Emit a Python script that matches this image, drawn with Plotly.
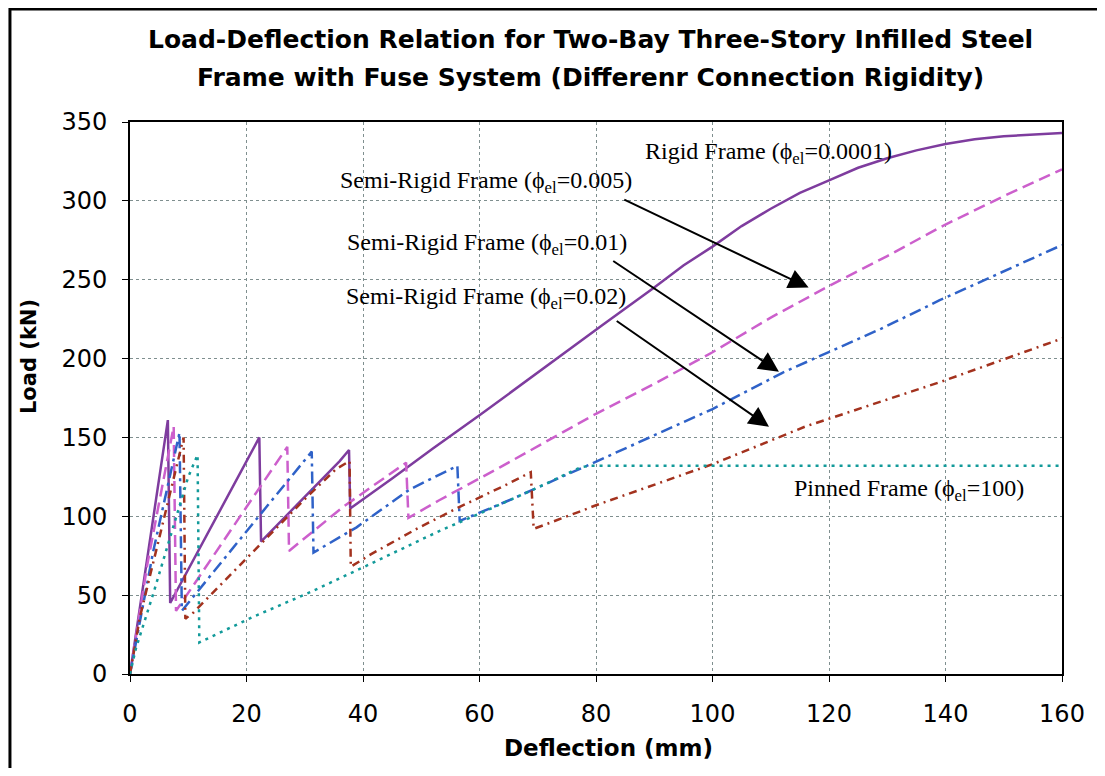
import plotly.graph_objects as go

# deflection (mm) / load (kN)
rigid_x = [0, 6.5, 6.9, 22.2, 22.5, 30, 36, 37.6, 37.8, 45, 52, 60, 67, 75, 81, 90, 95, 100, 105, 110, 115, 120, 125, 130, 135, 140, 145, 150, 155, 160]
rigid_y = [0, 161, 45, 150, 84, 112, 135, 142, 105, 124, 143, 164, 183, 205, 221, 245, 259, 271, 284, 295, 305, 313, 321, 327, 332, 336, 339, 341, 342, 343]

semi005_x = [0, 3, 7.5, 7.9, 27, 27.3, 36.6, 47.4, 47.8, 53, 63.5, 77, 80, 90, 100, 110, 120, 130, 140, 150, 160]
semi005_y = [0, 70, 157, 40, 144, 78, 106, 134, 99, 110, 131, 159, 165, 184, 204, 226, 246, 265, 285, 303, 320]

semi01_x = [0, 4, 8.5, 8.9, 21, 31.2, 31.5, 38.9, 48, 56.2, 56.6, 65, 79, 100, 112, 129, 139, 160]
semi01_y = [0, 78, 153, 40, 95, 141, 77, 93, 117, 132, 97, 110, 133, 168, 191, 219, 237, 272]

semi02_x = [0, 1.7, 5.2, 9.2, 9.5, 10.9, 30.3, 35.4, 37.7, 37.9, 41.4, 49.2, 56.6, 64.6, 68.8, 69.3, 77.2, 80, 100, 116, 139, 151, 161]
semi02_y = [0, 36, 89, 150, 35, 39, 112, 130, 135, 68, 76, 92, 106, 120, 128, 92, 103, 107, 133, 157, 185, 201, 214]

pinned_x = [0, 1, 4, 7, 10, 11.6, 11.9, 21, 31, 40.8, 53.3, 59.6, 69.3, 77.3, 79, 160]
pinned_y = [0, 16, 51, 88, 125, 139, 20, 36, 52, 69, 91, 101, 117, 131, 132, 132]

fig = go.Figure()
fig.add_trace(go.Scatter(x=rigid_x, y=rigid_y, mode='lines', name='Rigid',
                         line=dict(color='#7E3C9E', width=2.5)))
fig.add_trace(go.Scatter(x=semi005_x, y=semi005_y, mode='lines', name='0.005',
                         line=dict(color='#CC5FCC', width=2.5, dash='12px,6px')))
fig.add_trace(go.Scatter(x=semi01_x, y=semi01_y, mode='lines', name='0.01',
                         line=dict(color='#2F62C8', width=2.5, dash='12px,5px,3px,5px')))
fig.add_trace(go.Scatter(x=semi02_x, y=semi02_y, mode='lines', name='0.02',
                         line=dict(color='#A3321E', width=2.5, dash='8px,5px,2px,5px')))
fig.add_trace(go.Scatter(x=pinned_x, y=pinned_y, mode='lines', name='Pinned',
                         line=dict(color='#129A9A', width=2.5, dash='3px,5px')))

serif = dict(family='Liberation Serif, Times New Roman, serif', size=24, color='black')
phi = 'ϕ<sub>el</sub>'

# curve labels
labels = [(109.6, 330.4, 'Rigid Frame (' + phi + '=0.0001)'),
          (61.2, 312.2, 'Semi-Rigid Frame (' + phi + '=0.005)'),
          (61.3, 272.7, 'Semi-Rigid Frame (' + phi + '=0.01)'),
          (61.1, 238.4, 'Semi-Rigid Frame (' + phi + '=0.02)'),
          (133.7, 116.7, 'Pinned Frame (' + phi + '=100)')]
for lx, ly, txt in labels:
    fig.add_annotation(x=lx, y=ly, text=txt, showarrow=False, font=serif,
                       xanchor='center', yanchor='middle')

# arrow tail -> arrow head
arrows = [((84.6, 301.2), (116.5, 245)),
          ((82.7, 262.5), (111.4, 191.7)),
          ((83.3, 224.5), (109.7, 156.8))]
for (tx, ty), (hx, hy) in arrows:
    fig.add_annotation(x=hx, y=hy, ax=tx, ay=ty, axref='x', ayref='y', text='',
                       showarrow=True, arrowhead=2, arrowsize=2, arrowwidth=2,
                       arrowcolor='black', standoff=0)

sans = 'DejaVu Sans, Arial, sans-serif'
fig.add_annotation(xref='paper', yref='paper', x=0.4936, y=1.1486, showarrow=False,
                   xanchor='center', yanchor='middle',
                   text='<b>Load-Deflection Relation for Two-Bay Three-Story Infilled Steel</b>',
                   font=dict(family=sans, size=25, color='black'))
fig.add_annotation(xref='paper', yref='paper', x=0.4936, y=1.0815, showarrow=False,
                   xanchor='center', yanchor='middle',
                   text='<b>Frame with Fuse System (Differenr Connection Rigidity)</b>',
                   font=dict(family=sans, size=25, color='black'))
fig.add_annotation(xref='paper', yref='paper', x=-0.1084, y=0.576, showarrow=False,
                   xanchor='center', yanchor='middle',
                   text='<b>Load (kN)</b>', textangle=-90,
                   font=dict(family=sans, size=21, color='black'))
fig.add_annotation(xref='paper', yref='paper', x=0.5129, y=-0.134, showarrow=False,
                   xanchor='center', yanchor='middle',
                   text='<b>Deflection (mm)</b>',
                   font=dict(family=sans, size=23, color='black'))

# outer frame of the picture
fig.add_shape(type='rect', xref='paper', yref='paper', x0=-0.1288, y0=-0.2, x1=1.06, y1=1.2047,
              line=dict(color='black', width=3), layer='above')

grid = dict(showgrid=True, gridcolor='#7f8f8f', griddash='3px,3px', gridwidth=1,
            showline=True, linecolor='black', linewidth=2, mirror=True,
            ticks='outside', ticklen=6, tickcolor='black', zeroline=False,
            tickfont=dict(family='DejaVu Sans, sans-serif', size=24, color='black'))

fig.update_xaxes(range=[0, 160], dtick=20, ticklabelstandoff=11, **grid)
fig.update_yaxes(range=[0, 350], dtick=50, ticklabelstandoff=10, **grid)

# page body adds 8px offset, so the figure is a bit smaller than the window
fig.update_layout(width=1089, height=760, showlegend=False,
                  plot_bgcolor='white', paper_bgcolor='white',
                  margin=dict(l=122, r=35, t=114, b=94))

fig.write_html("out.html")
